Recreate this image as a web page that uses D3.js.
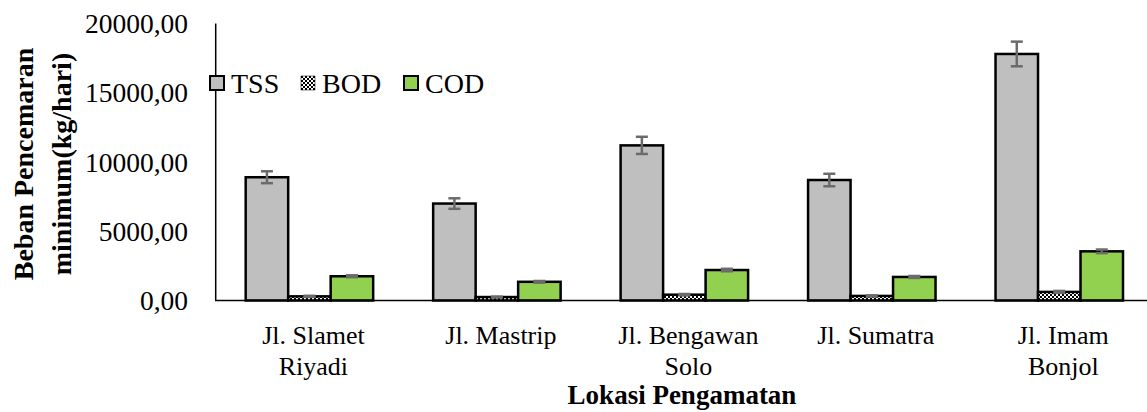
<!DOCTYPE html>
<meta charset="utf-8">
<style>
body { margin: 0; background: #fff; }
svg text { font-family: "Liberation Serif", "Times New Roman", serif; fill: #000; }
.tick-y { font-size: 27.5px; text-anchor: end; }
.tick-x { font-size: 26px; text-anchor: middle; }
.title { font-size: 28px; font-weight: bold; text-anchor: middle; }
.title.x { font-size: 27px; }
.legend text { font-size: 28px; }
</style>
<svg width="1147" height="412"></svg>
<script src="https://d3js.org/d3.v7.min.js"></script>
<script>

// values (kg/hari)
var categories = [["Jl. Slamet", "Riyadi"], ["Jl. Mastrip"], ["Jl. Bengawan", "Solo"], ["Jl. Sumatra"], ["Jl. Imam", "Bonjol"]];
var seriesNames = ["TSS", "BOD", "COD"];
var tss = [8900, 7000, 11200, 8700, 17800];
var bod = [300, 250, 420, 330, 620];
var cod = [1750, 1350, 2200, 1700, 3550];
var tssErr = [430, 380, 620, 450, 890];
var bodErr = [40, 30, 50, 40, 70];
var codErr = [70, 60, 90, 70, 130];
var yTicks = [0, 5000, 10000, 15000, 20000];

var svg = d3.select("svg");

var defs = svg.append("defs");
var pat = defs.append("pattern")
    .attr("id", "check")
    .attr("width", 4).attr("height", 4)
    .attr("patternUnits", "userSpaceOnUse");
pat.append("rect").attr("width", 4).attr("height", 4).attr("fill", "#fff");
pat.append("rect").attr("width", 2).attr("height", 2).attr("fill", "#000");
pat.append("rect").attr("x", 2).attr("y", 2).attr("width", 2).attr("height", 2).attr("fill", "#000");

var fills = { TSS: "#bfbfbf", BOD: "url(#check)", COD: "#92d050" };
var values = { TSS: tss, BOD: bod, COD: cod };
var errs = { TSS: tssErr, BOD: bodErr, COD: codErr };

var x0 = d3.scaleBand()
    .domain(d3.range(categories.length))
    .range([215.7, 1153])
    .paddingInner(0.32)
    .paddingOuter(0.16);

var x1 = d3.scaleBand()
    .domain(seriesNames)
    .range([0, x0.bandwidth()]);

var y = d3.scaleLinear()
    .domain([0, 20000])
    .range([300.5, 23.5]);

var fmt = function(v) { return d3.format(".2f")(v).replace(".", ","); };

// y tick labels
svg.selectAll(".tick-y")
    .data(yTicks)
  .enter().append("text")
    .attr("class", "tick-y")
    .attr("x", 188)
    .attr("y", function(d) { return y(d); })
    .attr("dy", "0.35em")
    .text(fmt);

// bars
var rows = [];
categories.forEach(function(c, i) {
  seriesNames.forEach(function(s) {
    rows.push({ i: i, s: s, v: values[s][i], e: errs[s][i] });
  });
});

svg.append("g").selectAll("rect")
    .data(rows)
  .enter().append("rect")
    .attr("x", function(d) { return x0(d.i) + x1(d.s); })
    .attr("y", function(d) { return y(d.v); })
    .attr("width", x1.bandwidth())
    .attr("height", function(d) { return y(0) - y(d.v); })
    .attr("fill", function(d) { return fills[d.s]; })
    .attr("stroke", "#000")
    .attr("stroke-width", 2.5);

// error bars
var eb = svg.append("g")
    .attr("stroke", "#6b6b6b")
    .attr("stroke-width", 2.5)
  .selectAll("g")
    .data(rows)
  .enter().append("g")
    .attr("transform", function(d) { return "translate(" + (x0(d.i) + x1(d.s) + x1.bandwidth() / 2) + ",0)"; });
eb.append("line")
    .attr("y1", function(d) { return y(d.v + d.e); })
    .attr("y2", function(d) { return y(d.v - d.e); });
eb.append("line")
    .attr("x1", -6).attr("x2", 6)
    .attr("y1", function(d) { return y(d.v + d.e); })
    .attr("y2", function(d) { return y(d.v + d.e); });
eb.append("line")
    .attr("x1", -6).attr("x2", 6)
    .attr("y1", function(d) { return y(d.v - d.e); })
    .attr("y2", function(d) { return y(d.v - d.e); });

// axis lines
svg.append("line")
    .attr("x1", 215.7).attr("x2", 215.7)
    .attr("y1", y(20000)).attr("y2", y(0))
    .attr("stroke", "#000").attr("stroke-width", 1.5);
svg.append("line")
    .attr("x1", 215).attr("x2", 1147)
    .attr("y1", y(0)).attr("y2", y(0))
    .attr("stroke", "#000").attr("stroke-width", 1.5);

// x labels
var xl = svg.selectAll(".tick-x")
    .data(categories)
  .enter().append("text")
    .attr("class", "tick-x")
    .attr("transform", function(d, i) { return "translate(" + (x0(i) + x0.bandwidth() / 2 + 4) + ",344)"; });
xl.selectAll("tspan")
    .data(function(d) { return d; })
  .enter().append("tspan")
    .attr("x", 0)
    .attr("y", function(d, j) { return j * 31; })
    .text(function(d) { return d; });

// axis titles
svg.append("text")
    .attr("class", "title x")
    .attr("x", 682).attr("y", 404)
    .text("Lokasi Pengamatan");

var yt = svg.append("text")
    .attr("class", "title")
    .attr("transform", "translate(0,164) rotate(-90)");
yt.append("tspan").attr("x", 0).attr("y", 33).text("Beban Pencemaran");
yt.append("tspan").attr("x", 0).attr("y", 71).text("minimum(kg/hari)");

// legend
var lg = svg.append("g").attr("class", "legend")
    .selectAll("g")
    .data(seriesNames)
  .enter().append("g")
    .attr("transform", function(d, i) { return "translate(" + [210, 301, 404][i] + ",76)"; });
lg.append("rect")
    .attr("width", 14).attr("height", 14)
    .attr("fill", function(d) { return fills[d]; })
    .attr("stroke", "#000")
    .attr("stroke-width", function(d) { return d === "BOD" ? 0.5 : 2; });
lg.append("text")
    .attr("x", 21).attr("y", 17)
    .text(function(d) { return d; });

</script>
